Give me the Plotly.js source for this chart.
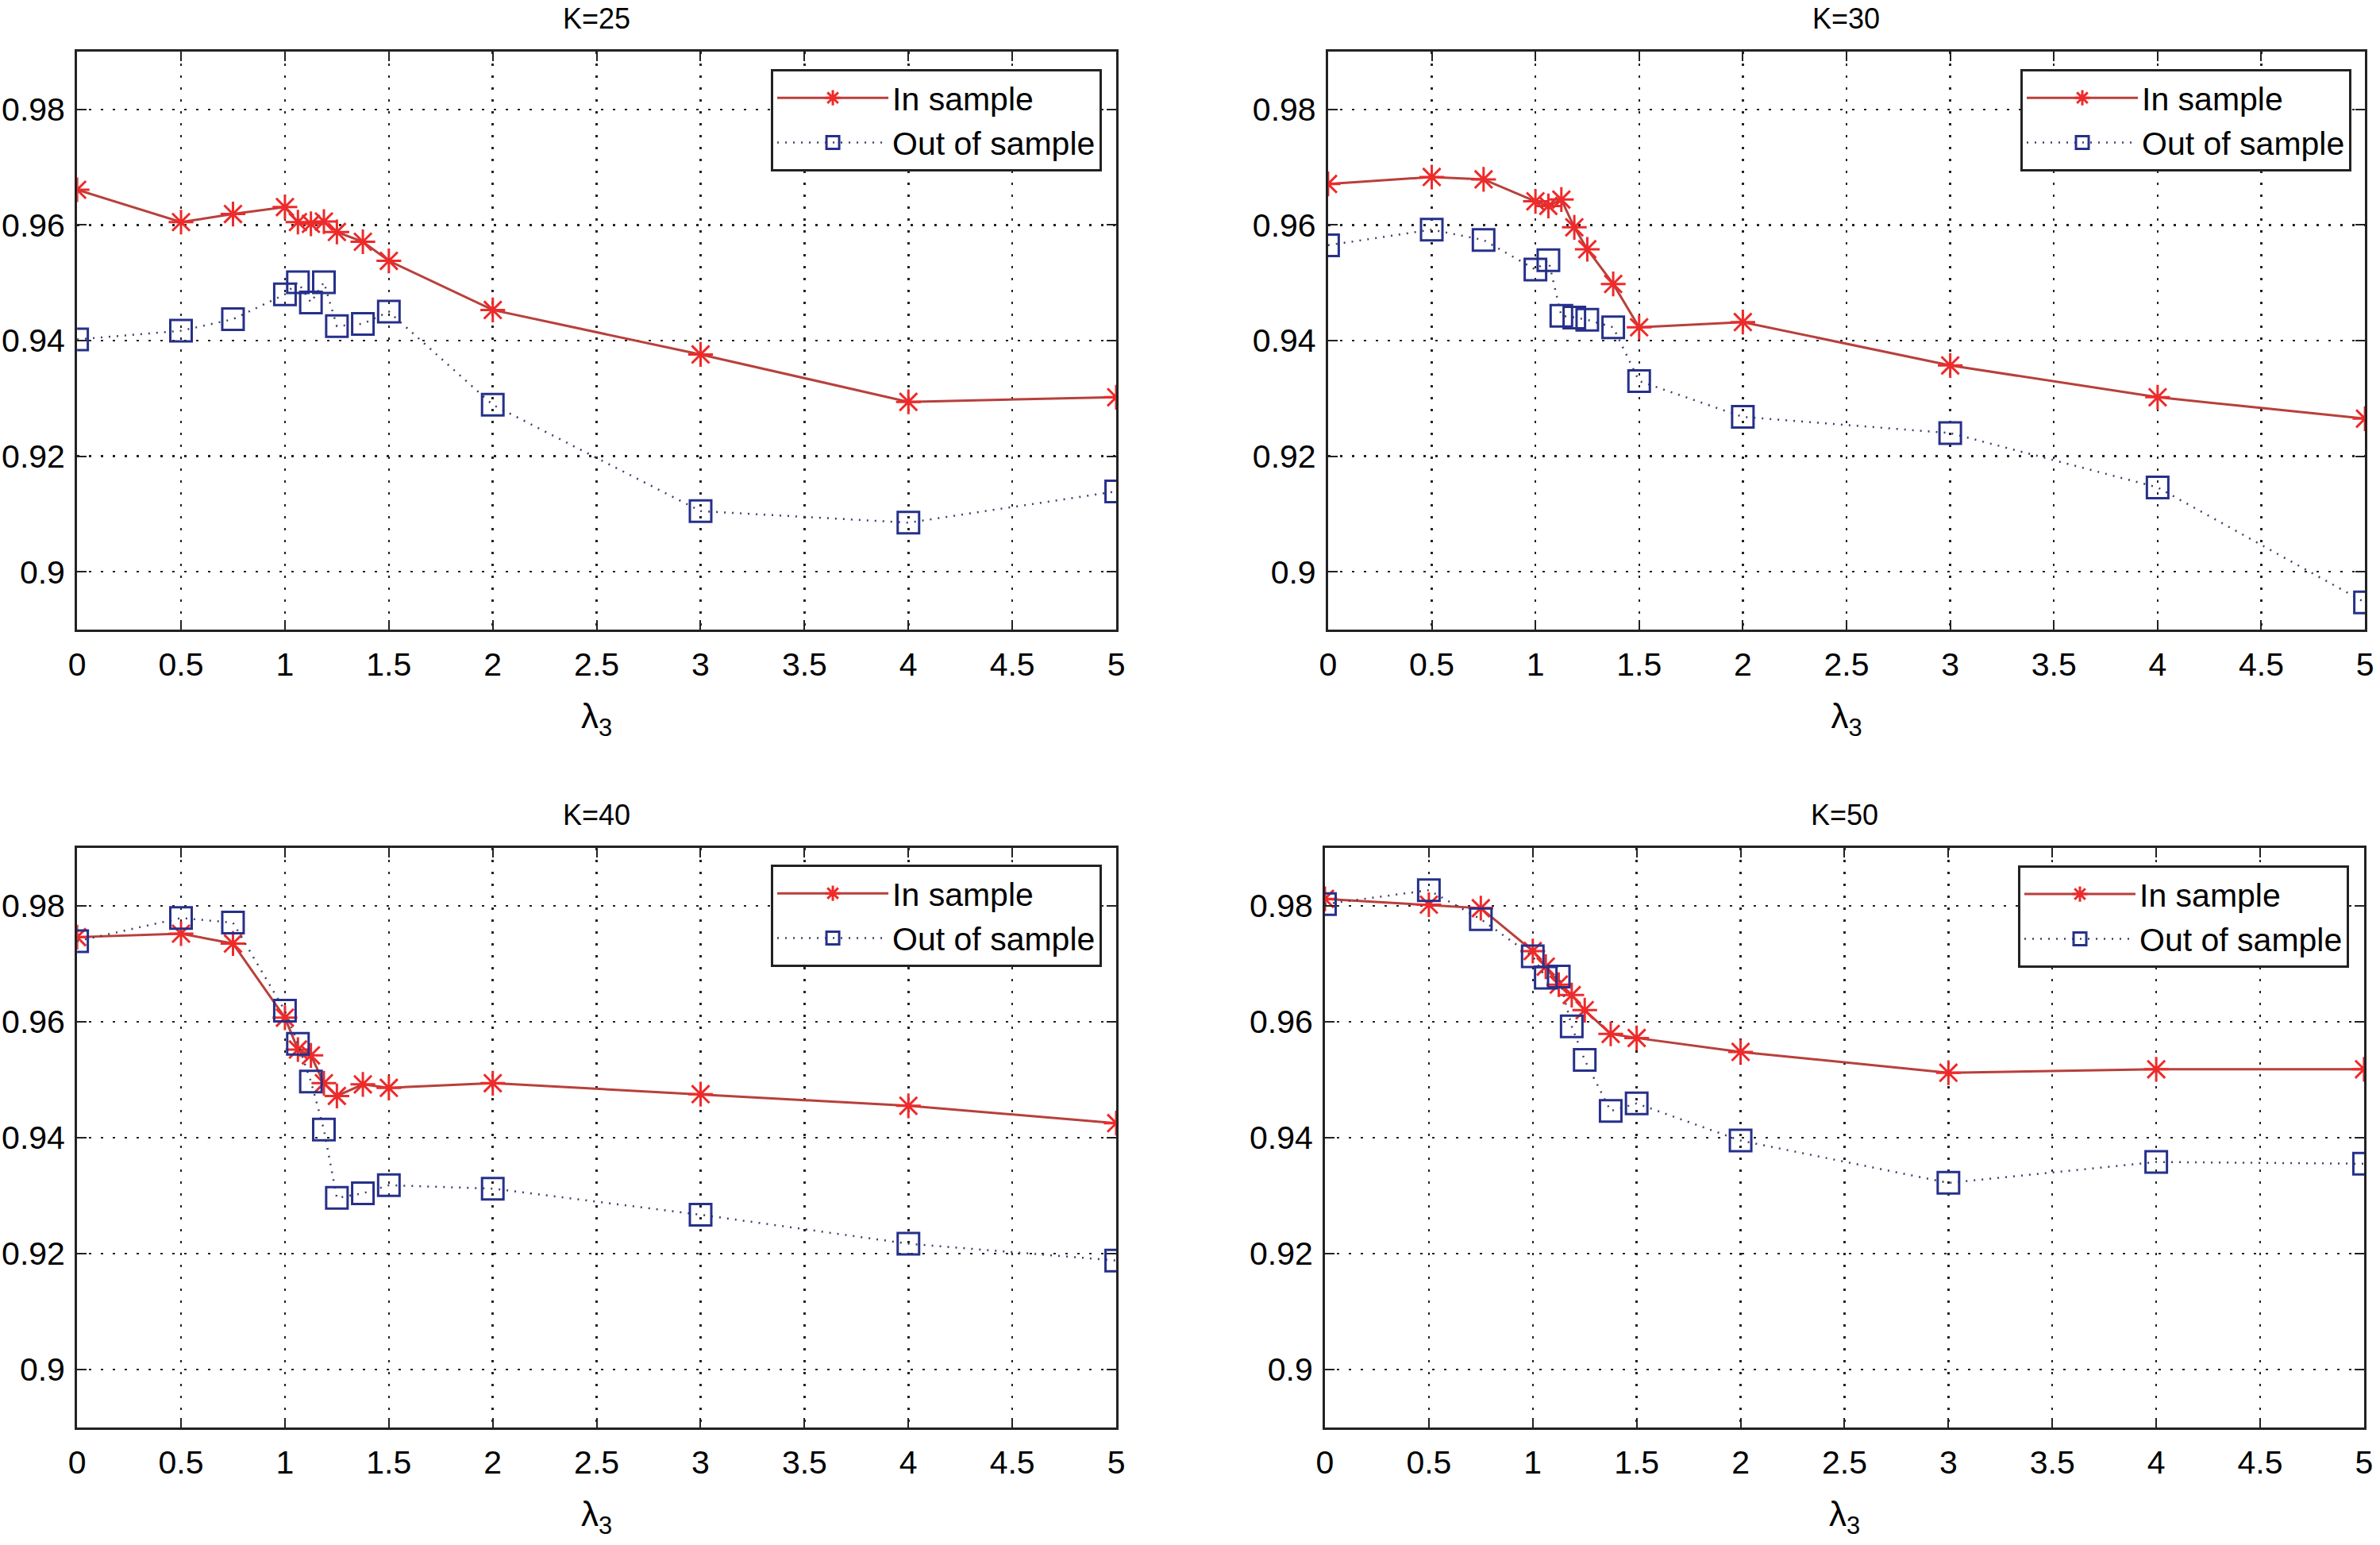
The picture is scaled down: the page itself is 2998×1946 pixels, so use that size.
<!DOCTYPE html>
<html>
<head>
<meta charset="utf-8">
<script src="https://cdn.plot.ly/plotly-3.0.1.min.js"></script>
<style>
  html, body { margin: 0; padding: 0; background: #fff; }
  #chart { width: 2998px; height: 1946px; }
</style>
</head>
<body>
<div id="chart"></div>
<script>
// lambda_3 values shared by every panel
const lambda3 = [0, 0.5, 0.75, 1, 1.0625, 1.125, 1.1875, 1.25, 1.375, 1.5, 2, 3, 4, 5];

const panelTitles = ["K=25", "K=30", "K=40", "K=50"];

const k25In = [0.9661, 0.9605, 0.9619, 0.9631, 0.9605, 0.9602, 0.9606, 0.9588, 0.9571, 0.9538, 0.9453, 0.9376, 0.9294, 0.9302];
const k25Out = [0.9402, 0.9417, 0.9437, 0.948, 0.9501, 0.9466, 0.9501, 0.9425, 0.9429, 0.945, 0.9289, 0.9105, 0.9085, 0.9139];

const k30In = [0.9671, 0.9683, 0.9679, 0.9641, 0.9633, 0.9644, 0.9596, 0.9558, 0.9498, 0.9423, 0.9432, 0.9357, 0.9302, 0.9265];
const k30Out = [0.9565, 0.9592, 0.9574, 0.9523, 0.9539, 0.9443, 0.944, 0.9436, 0.9423, 0.933, 0.9268, 0.924, 0.9146, 0.8947];

const k40In = [0.9746, 0.9752, 0.9735, 0.9607, 0.9552, 0.9542, 0.9494, 0.9472, 0.9492, 0.9486, 0.9494, 0.9475, 0.9455, 0.9425];
const k40Out = [0.9739, 0.9779, 0.9771, 0.9619, 0.9562, 0.9497, 0.9414, 0.9296, 0.9304, 0.9318, 0.9312, 0.9267, 0.9217, 0.9188];

const k50In = [0.9812, 0.9802, 0.9796, 0.9722, 0.9695, 0.9664, 0.9646, 0.962, 0.9579, 0.9572, 0.9548, 0.9512, 0.9518, 0.9518];
const k50Out = [0.9803, 0.9827, 0.9777, 0.9713, 0.9676, 0.9678, 0.9592, 0.9534, 0.9446, 0.9459, 0.9395, 0.9322, 0.9358, 0.9355];

const xTickVals = [0, 0.5, 1, 1.5, 2, 2.5, 3, 3.5, 4, 4.5, 5];
const xTickText = ["0", "0.5", "1", "1.5", "2", "2.5", "3", "3.5", "4", "4.5", "5"];
const yTickVals = [0.9, 0.92, 0.94, 0.96, 0.98];
const yTickText = ["0.9", "0.92", "0.94", "0.96", "0.98"];

const inSeries = [k25In, k30In, k40In, k50In];
const outSeries = [k25Out, k30Out, k40Out, k50Out];

// panel boxes in paper coords
const xDomains = [[0.0324, 0.469], [0.558, 0.9937], [0.0324, 0.469], [0.5567, 0.9933]];
const yDomains = [[0.5925, 0.9666], [0.5925, 0.9666], [0.0761, 0.4512], [0.0761, 0.4512]];
const legendPos = [[0.463, 0.9553], [0.988, 0.9553], [0.463, 0.4404], [0.987, 0.4399]];
const titleY = [0.988, 0.988, 0.4727, 0.4727];

const FONT = "Liberation Sans, Arial, sans-serif";

const data = [];
const layout = {
  width: 2998,
  height: 1946,
  margin: { t: 0, b: 0, l: 0, r: 0 },
  paper_bgcolor: "#fff",
  plot_bgcolor: "#fff",
  font: { family: FONT, size: 40, color: "#000" },
  annotations: [],
};

for (let i = 0; i < 4; i++) {
  const n = i === 0 ? "" : String(i + 1);
  const legendName = "legend" + n;

  data.push({
    x: lambda3,
    y: inSeries[i],
    xaxis: "x" + n,
    yaxis: "y" + n,
    name: "In sample",
    legend: legendName,
    mode: "lines+markers",
    line: { color: "#b8403c", width: 3 },
    marker: {
      symbol: "asterisk-open",
      size: 26,
      color: "#ee2a2a",
      line: { color: "#ee2a2a", width: 3 },
    },
  });
  data.push({
    x: lambda3,
    y: outSeries[i],
    xaxis: "x" + n,
    yaxis: "y" + n,
    name: "Out of sample",
    legend: legendName,
    mode: "lines+markers",
    line: { color: "#404068", width: 2.5, dash: "2px,8px" },
    marker: {
      symbol: "square-open",
      size: 27,
      color: "#26308a",
      line: { color: "#26308a", width: 3 },
    },
  });

  layout["xaxis" + n] = {
    domain: xDomains[i],
    anchor: "y" + n,
    range: [0, 5],
    tickvals: xTickVals,
    ticktext: xTickText,
    ticks: "inside",
    ticklen: 12,
    tickwidth: 2,
    tickcolor: "#222",
    showline: true,
    linecolor: "#222",
    linewidth: 3,
    mirror: "ticks",
    showgrid: true,
    gridcolor: "#222",
    gridwidth: 2.5,
    griddash: "3px,12px",
    zeroline: false,
    tickfont: { size: 41 },
    ticklabelstandoff: 6,
    title: { text: "λ<sub>3</sub>", font: { size: 44 }, standoff: 28 },
  };
  layout["yaxis" + n] = {
    domain: yDomains[i],
    anchor: "x" + n,
    range: [0.89, 0.99],
    tickvals: yTickVals,
    ticktext: yTickText,
    ticks: "inside",
    ticklen: 12,
    tickwidth: 2,
    tickcolor: "#222",
    showline: true,
    linecolor: "#222",
    linewidth: 3,
    mirror: "ticks",
    showgrid: true,
    gridcolor: "#222",
    gridwidth: 2.5,
    griddash: "3px,12px",
    zeroline: false,
    tickfont: { size: 41 },
    ticklabelstandoff: 4,
  };
  layout[legendName] = {
    x: legendPos[i][0],
    y: legendPos[i][1],
    xanchor: "right",
    yanchor: "top",
    bgcolor: "#fff",
    bordercolor: "#222",
    borderwidth: 3,
    font: { size: 41, family: FONT },
    itemwidth: 140,
    tracegroupgap: 0,
  };
  layout.annotations.push({
    text: panelTitles[i],
    xref: "paper",
    yref: "paper",
    x: (xDomains[i][0] + xDomains[i][1]) / 2,
    y: titleY[i],
    xanchor: "center",
    yanchor: "middle",
    showarrow: false,
    font: { size: 36, family: FONT },
  });
}

Plotly.newPlot("chart", data, layout, { displayModeBar: false, staticPlot: true });
</script>
</body>
</html>
